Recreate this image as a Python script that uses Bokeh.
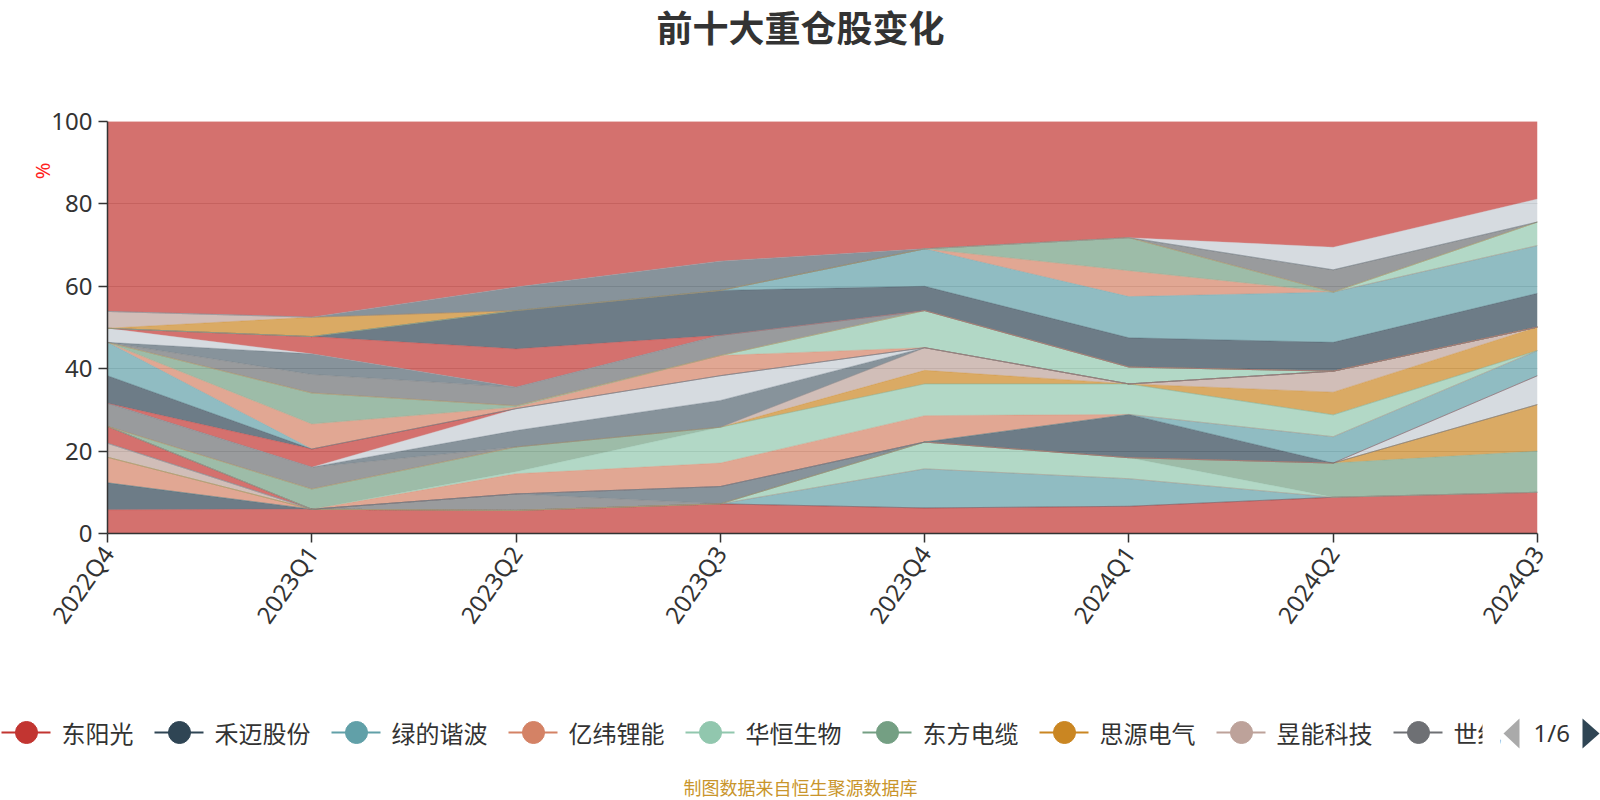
import math
from bokeh.plotting import figure
from bokeh.models import ColumnDataSource, FixedTicker, Range1d, LinearAxis
from bokeh.layouts import column
from bokeh.embed import file_html
from bokeh.resources import INLINE
from bokeh.core.properties import value

quarters = ["2022Q4", "2023Q1", "2023Q2", "2023Q3", "2023Q4", "2024Q1", "2024Q2", "2024Q3"]
palette = ['#c23531', '#2f4554', '#61a0a8', '#d48265', '#91c7ae', '#749f83',
           '#ca8622', '#bda29a', '#6e7074', '#546570', '#c4ccd3']
legend_names = ["东阳光", "禾迈股份", "绿的谐波", "亿纬锂能", "华恒生物", "东方电缆", "思源电气", "昱能科技", "世纪"]
y_ticks = [0, 20, 40, 60, 80, 100]
title_text = "前十大重仓股变化"
source_text = "制图数据来自恒生聚源数据库"

# holding weight (%) of each stacked series per quarter, bottom to top
v00 = [5.75, 5.9, 5.6, 7.2, 6.2, 6.6, 8.8, 10.0]
v01 = [6.55, 0, 0, 0, 0, 0, 0, 0]
v02 = [0, 0, 0, 0, 9.5, 6.7, 0, 0]
v03 = [6.2, 0, 0, 0, 0, 0, 0, 0]
v04 = [0, 0, 0, 0, 6.5, 5.1, 0, 0]
v05 = [0, 0, 0, 0, 0, 0, 8.3, 10.0]
v06 = [0, 0, 0, 0, 0, 0, 0, 11.3]
v07 = [3.4, 0, 0, 0, 0, 0, 0, 0]
v08 = [0, 0, 4.0, 0, 0, 0, 0, 0]
v09 = [0, 0, 0, 4.2, 0, 0, 0, 0]
v10 = [0, 0, 0, 0, 0, 0, 0, 7.0]
v11 = [4.1, 0, 0, 0, 0, 0, 0, 0]
v12 = [0, 0, 0, 0, 0, 10.5, 0, 0]
v13 = [0, 0, 0, 0, 0, 0, 6.4, 6.1]
v14 = [0, 0, 4.9, 5.7, 6.4, 0, 0, 0]
v15 = [0, 0, 0.5, 8.7, 7.7, 7.4, 5.3, 0]
v16 = [0, 4.9, 6.0, 0, 0, 0, 0, 0]
v17 = [0, 0, 0, 0, 3.3, 0, 5.5, 5.7]
v18 = [0, 0, 0, 0, 5.5, 0, 5.1, 0]
v19 = [5.6, 5.3, 0, 0, 0, 0, 0, 0]
v20 = [0, 0, 4.0, 6.5, 0, 0, 0, 0]
v21 = [0, 0, 5.3, 6.0, 0, 0, 0, 0]
v22 = [0, 4.4, 0, 0, 0, 0, 0, 0]
v23 = [6.7, 0, 0, 0, 0, 0, 0, 0]
v24 = [8.1, 0, 0, 0, 0, 0, 0, 0]
v25 = [0, 6.1, 0.4, 4.9, 0, 0, 0, 0]
v26 = [0, 0, 0, 0, 9.0, 4.1, 0, 0]
v27 = [0, 7.5, 0.3, 0, 0, 0, 0, 0]
v28 = [0, 0, 0, 0, 0, 0, 0, 0]
v29 = [0, 0, 0, 0, 0, 0, 0, 0]
v30 = [0, 4.5, 4.5, 4.9, 0, 0, 0, 0]
v31 = [0, 5.0, 0, 0, 0, 0, 0, 0]
v32 = [3.4, 0, 0, 0, 0, 0, 0, 0]
v33 = [0, 4.2, 9.3, 0, 0, 0, 0, 0]
v34 = [0, 0, 9.3, 10.9, 5.9, 7.1, 7.0, 8.2]
v35 = [0, 0, 0, 0, 9.1, 10.0, 12.2, 11.6]
v36 = [0, 0, 0, 0, 0, 6.3, 0, 0]
v37 = [0, 0, 0, 0, 0, 0, 0, 5.7]
v38 = [0, 0, 0, 0, 0, 8.0, 0, 0]
v39 = [0, 4.7, 0, 0, 0, 0, 0, 0]
v40 = [4.1, 0, 0, 0, 0, 0, 0, 0]
v41 = [0, 0, 0, 0, 0, 0, 5.4, 0]
v42 = [0, 0, 5.7, 7.1, 0, 0, 0, 0]
v43 = [0, 0, 0, 0, 0, 0, 5.5, 5.6]
v44 = [46.1, 47.5, 40.2, 33.9, 30.9, 28.2, 30.5, 18.8]

series_values = [v00, v01, v02, v03, v04, v05, v06, v07, v08, v09, v10, v11, v12, v13, v14,
                 v15, v16, v17, v18, v19, v20, v21, v22, v23, v24, v25, v26, v27, v28, v29,
                 v30, v31, v32, v33, v34, v35, v36, v37, v38, v39, v40, v41, v42, v43, v44]

FONT = "Noto Sans CJK SC"
NUMFONT = "Noto Sans"
TXT = "#333333"
W = 1600


def no_align(fig):
    if "frame_align" in fig.properties():
        fig.frame_align = False


def bare(fig):
    fig.outline_line_color = None
    fig.grid.visible = False
    fig.background_fill_color = None
    fig.border_fill_color = None


# ---------- title strip (page y 0..100) ----------
top = figure(width=W, height=100, x_range=Range1d(0, W), y_range=Range1d(100, 0),
             output_backend="svg", toolbar_location=None, x_axis_type=None, y_axis_type=None,
             min_border_left=0, min_border_right=0, min_border_top=0, min_border_bottom=0)
bare(top)
no_align(top)
top.text(x=[W / 2], y=[25], text=[title_text], text_align="center", text_baseline="middle",
         text_font_size="36px", text_font_style="bold", text_color=TXT, text_font=value(FONT))

# ---------- main chart (page y 100..700) ----------
stack_names = ["s%02d" % i for i in range(len(series_values))]
stack_colors = [palette[i % len(palette)] for i in range(len(series_values))]
data = {"x": list(range(len(quarters)))}
for n, v in zip(stack_names, series_values):
    data[n] = v
src = ColumnDataSource(data)

p = figure(width=W, height=600, x_range=Range1d(0, len(quarters) - 1), y_range=Range1d(0, 100),
           output_backend="svg", toolbar_location=None,
           min_border_left=107, min_border_right=63, min_border_top=21, min_border_bottom=167)
no_align(p)
p.varea_stack(stackers=stack_names, x="x", fill_color=stack_colors, fill_alpha=0.7, source=src)
p.vline_stack(stackers=stack_names, x="x", line_color=stack_colors, line_alpha=0.3, line_width=1, source=src)

p.outline_line_color = None
p.xgrid.visible = False
p.ygrid.grid_line_color = "#cccccc"
p.ygrid.grid_line_width = 1

p.xaxis.ticker = FixedTicker(ticks=list(range(len(quarters))))
p.xaxis.major_label_overrides = {i: q for i, q in enumerate(quarters)}
p.xaxis.major_label_orientation = math.radians(55)
p.yaxis.ticker = FixedTicker(ticks=y_ticks)
for ax in (p.xaxis[0], p.yaxis[0]):
    ax.axis_line_color = TXT
    ax.axis_line_width = 1.5
    ax.major_tick_line_color = TXT
    ax.major_tick_line_width = 1.5
    ax.major_tick_out = 9
    ax.major_tick_in = 0
    ax.minor_tick_line_color = None
    ax.major_label_text_font_size = "24px"
    ax.major_label_text_color = TXT
    ax.major_label_text_font = NUMFONT
    ax.major_label_standoff = 6

# unit name of the y axis, shown near its upper end
unit_axis = LinearAxis(ticker=FixedTicker(ticks=[90]), major_label_overrides={90: "%"},
                       axis_line_color=None, major_tick_line_color=None, minor_tick_line_color=None,
                       major_label_text_color="#ff2020", major_label_text_font_size="20px",
                       major_label_text_font=NUMFONT, major_label_orientation=math.pi / 2,
                       major_label_standoff=0)
p.add_layout(unit_axis, "left")

# ---------- legend + source strip (page y 700..800) ----------
lg = figure(width=W, height=100, x_range=Range1d(0, W), y_range=Range1d(800, 700),
            output_backend="svg", toolbar_location=None, x_axis_type=None, y_axis_type=None,
            min_border_left=0, min_border_right=0, min_border_top=0, min_border_bottom=0)
bare(lg)
no_align(lg)

ly = 732
starts = []
cur = 1
for nm in legend_names:
    starts.append(cur)
    cur += 50 + 10 + 24 * len(nm) + 21
leg_colors = [palette[i] for i in range(len(legend_names))]
lg.segment(x0=starts, y0=[ly] * len(starts), x1=[s + 49 for s in starts], y1=[ly] * len(starts),
           line_color=leg_colors, line_width=2)
lg.scatter(x=[s + 25 for s in starts], y=[ly] * len(starts), size=22, fill_color=leg_colors,
           line_color=leg_colors)
lg.text(x=[s + 60 for s in starts], y=[ly] * len(starts), text=legend_names,
        text_baseline="middle", text_align="left", text_font_size="24px",
        text_color=TXT, text_font=value(FONT))
lg.quad(left=[1482], right=[1500], top=[710], bottom=[756], fill_color="white", line_color=None)
lg.patches(xs=[[1519, 1503, 1519], [1582, 1599, 1582]], ys=[[718, 733, 748], [718, 733, 748]],
           fill_color=["#aaaaaa", "#2f4554"], line_color=None)
lg.text(x=[1533], y=[ly], text=["1/6"], text_baseline="middle", text_align="left",
        text_font_size="24px", text_color=TXT, text_font=value(NUMFONT))
lg.text(x=[W / 2], y=[786], text=[source_text], text_baseline="middle",
        text_align="center", text_font_size="18px", text_color="#c9952b", text_font=value(FONT))

layout = column(top, p, lg, spacing=0)
open("out.html", "w").write(file_html(layout, INLINE))
